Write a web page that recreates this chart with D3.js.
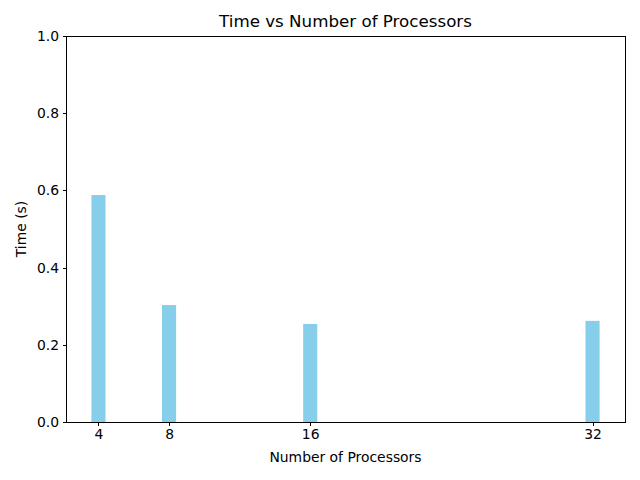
<!DOCTYPE html>
<html><head><meta charset="utf-8">
<script src="https://cdn.jsdelivr.net/npm/d3@7"></script>
<style>body{margin:0;background:#fff}svg{display:block}text{font-family:"DejaVu Sans",sans-serif;fill:#000}</style>
</head><body>
<script>
const processors = [4, 8, 16, 32];
const times = [0.588, 0.303, 0.254, 0.262];
const yTicks = [0.0, 0.2, 0.4, 0.6, 0.8, 1.0];
const title = "Time vs Number of Processors";
const xLabel = "Number of Processors";
const yLabel = "Time (s)";

const W = 640, H = 480;
const m = {left: 66, right: 15, top: 36, bottom: 58};
const svg = d3.select("body").append("svg").attr("width", W).attr("height", H);
const barW = 0.8;
const lo = 4 - barW/2, hi = 32 + barW/2, pad = (hi - lo) * 0.05;
const x = d3.scaleLinear().domain([lo - pad, hi + pad]).range([m.left, W - m.right]);
const y = d3.scaleLinear().domain([0, 1]).range([H - m.bottom, m.top]);

svg.selectAll("rect.bar").data(processors).join("rect").attr("class","bar")
  .attr("x", d => x(d - barW/2)).attr("width", d => x(d + barW/2) - x(d - barW/2))
  .attr("y", (d,i) => y(times[i])).attr("height", (d,i) => y(0) - y(times[i]))
  .attr("fill", "#87CEEB");

const xa = svg.append("g").attr("transform", `translate(0,${H - m.bottom})`)
  .call(d3.axisBottom(x).tickValues(processors).tickFormat(d3.format("d")).tickSize(3.5).tickPadding(3.5));
const ya = svg.append("g").attr("transform", `translate(${m.left},0)`)
  .call(d3.axisLeft(y).tickValues(yTicks).tickFormat(d3.format(".1f")).tickSize(3.5).tickPadding(3.5));
[xa, ya].forEach(a => {
  a.select(".domain").remove();
  a.selectAll("text").style("font-size", "13.9px").style("font-family", "DejaVu Sans");
  a.selectAll("line").attr("stroke", "#000").attr("stroke-width", 1).attr("shape-rendering", "crispEdges");
});

svg.append("rect").attr("x", m.left).attr("y", m.top)
  .attr("width", W - m.right - m.left).attr("height", H - m.bottom - m.top)
  .attr("fill", "none").attr("stroke", "#000").attr("stroke-width", 1).attr("shape-rendering", "crispEdges");

svg.append("text").attr("x", (m.left + W - m.right)/2).attr("y", 27)
  .attr("text-anchor", "middle").style("font-size", "16.7px").text(title);
svg.append("text").attr("x", (m.left + W - m.right)/2).attr("y", 462)
  .attr("text-anchor", "middle").style("font-size", "13.9px").text(xLabel);
svg.append("text").attr("transform", `translate(26,${(m.top + H - m.bottom)/2}) rotate(-90)`)
  .attr("text-anchor", "middle").style("font-size", "13.9px").text(yLabel);
</script>
</body></html>
